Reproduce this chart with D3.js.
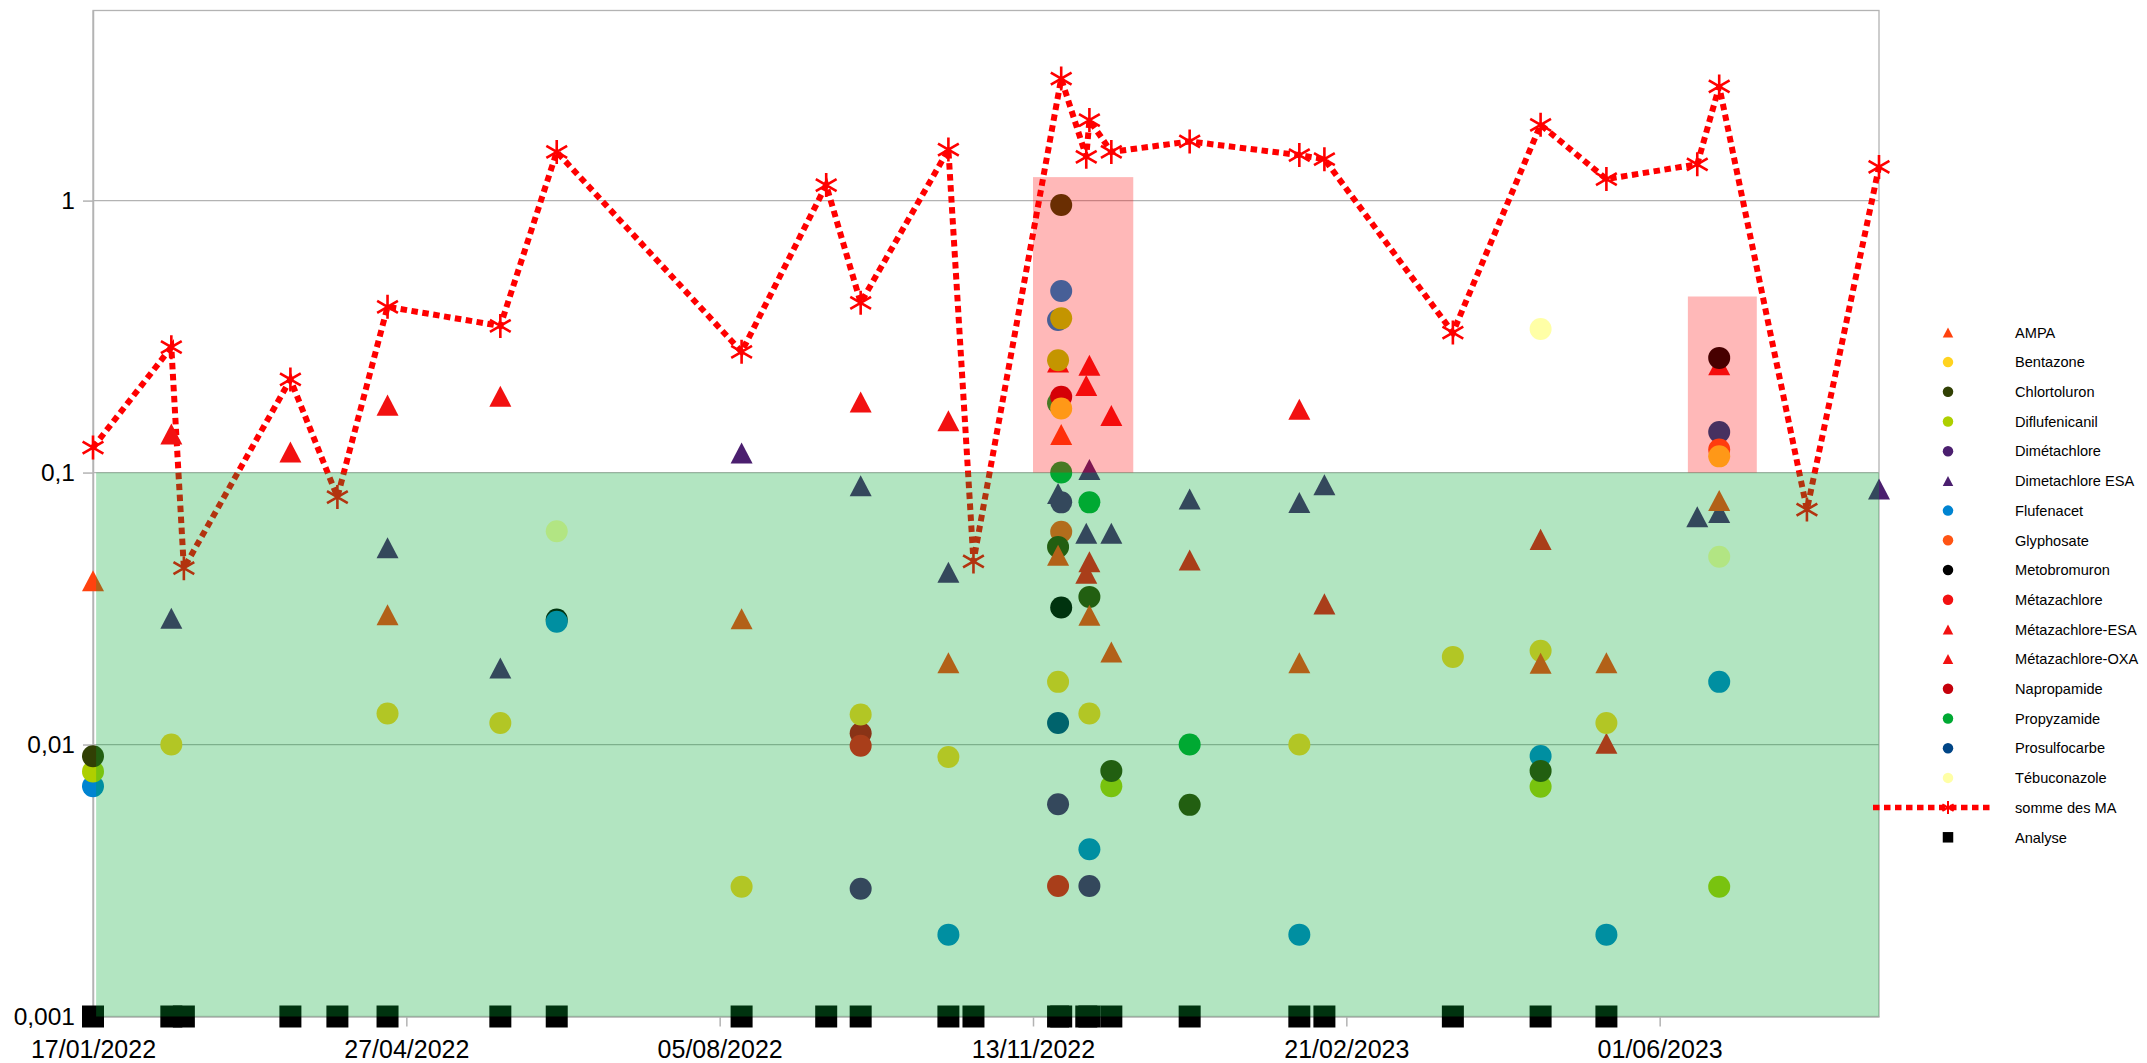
<!DOCTYPE html>
<html>
<head>
<meta charset="utf-8">
<title>Molécules détectées</title>
<script src="https://cdn.jsdelivr.net/npm/d3@7"></script>
<style>
  html, body { margin: 0; padding: 0; background: #ffffff; }
  svg { display: block; font-family: "Liberation Sans", Arial, sans-serif; }
</style>
</head>
<body>
<svg id="chart" width="2147" height="1063"></svg>
<script>
// ---- Data (concentrations, µg/L) ----------------------------------------
const seriesNames = [
  "AMPA", "Bentazone", "Chlortoluron", "Diflufenicanil", "Dimétachlore",
  "Dimetachlore ESA", "Flufenacet", "Glyphosate", "Metobromuron", "Métazachlore",
  "Métazachlore-ESA", "Métazachlore-OXA", "Napropamide", "Propyzamide",
  "Prosulfocarbe", "Tébuconazole"
];

const ampa = [
  ["17/01/2022", 0.04], ["21/04/2022", 0.03], ["12/08/2022", 0.029], ["17/10/2022", 0.02],
  ["21/11/2022", 0.0497], ["22/11/2022", 0.138], ["01/12/2022", 0.0299], ["08/12/2022", 0.0219],
  ["06/02/2023", 0.02], ["24/04/2023", 0.0199], ["15/05/2023", 0.02], ["20/06/2023", 0.079]
];
const bentazone = [
  ["11/02/2022", 0.01], ["21/04/2022", 0.013], ["27/05/2022", 0.012], ["12/08/2022", 0.003],
  ["19/09/2022", 0.0129], ["17/10/2022", 0.009], ["21/11/2022", 0.017], ["22/11/2022", 0.172],
  ["01/12/2022", 0.013], ["06/02/2023", 0.01], ["27/03/2023", 0.021], ["24/04/2023", 0.0221],
  ["15/05/2023", 0.012], ["20/06/2023", 0.1147]
];
const chlortoluron = [
  ["17/01/2022", 0.00906], ["21/11/2022", 0.0533], ["22/11/2022", 0.963], ["01/12/2022", 0.0349],
  ["08/12/2022", 0.008], ["02/01/2023", 0.006], ["24/04/2023", 0.008]
];
const diflufenicanil = [
  ["17/01/2022", 0.00796], ["21/11/2022", 0.259], ["22/11/2022", 0.369], ["08/12/2022", 0.00703],
  ["24/04/2023", 0.007], ["20/06/2023", 0.003]
];
const dimetachlore = [
  ["19/09/2022", 0.00295], ["21/11/2022", 0.00603], ["22/11/2022", 0.0777], ["01/12/2022", 0.00302]
];
const dimetachloreEsa = [
  ["11/02/2022", 0.0291], ["21/04/2022", 0.0529], ["27/05/2022", 0.0191], ["12/08/2022", 0.118],
  ["19/09/2022", 0.0895], ["17/10/2022", 0.043], ["21/11/2022", 0.0838], ["30/11/2022", 0.0598],
  ["01/12/2022", 0.1027], ["08/12/2022", 0.0598], ["02/01/2023", 0.08], ["06/02/2023", 0.0776],
  ["14/02/2023", 0.0902], ["13/06/2023", 0.0688], ["20/06/2023", 0.0713], ["10/08/2023", 0.087]
];
const flufenacet = [
  ["17/01/2022", 0.00702], ["14/06/2022", 0.0283], ["17/10/2022", 0.002], ["21/11/2022", 0.364],
  ["22/11/2022", 0.465], ["01/12/2022", 0.00412], ["06/02/2023", 0.002], ["24/04/2023", 0.00907],
  ["15/05/2023", 0.002], ["20/06/2023", 0.017]
];
const glyphosate = [
  ["22/11/2022", 0.0606], ["20/06/2023", 0.1216]
];
const metobromuron = [
  ["14/06/2022", 0.0288], ["22/11/2022", 0.0319], ["20/06/2023", 0.264]
];
const metazachlore = [
  ["19/09/2022", 0.0099], ["21/11/2022", 0.00302]
];
const metazachloreEsa = [
  ["11/02/2022", 0.1387], ["21/03/2022", 0.119], ["21/04/2022", 0.177], ["27/05/2022", 0.191],
  ["19/09/2022", 0.1817], ["17/10/2022", 0.155], ["21/11/2022", 0.255], ["30/11/2022", 0.209],
  ["01/12/2022", 0.248], ["08/12/2022", 0.162], ["06/02/2023", 0.171], ["20/06/2023", 0.249]
];
const metazachloreOxa = [
  ["30/11/2022", 0.0426], ["01/12/2022", 0.047], ["02/01/2023", 0.0477], ["14/02/2023", 0.0329],
  ["24/04/2023", 0.0568], ["15/05/2023", 0.0101]
];
const napropamide = [
  ["19/09/2022", 0.011], ["22/11/2022", 0.19]
];
const propyzamide = [
  ["21/11/2022", 0.18], ["22/11/2022", 0.1], ["01/12/2022", 0.0777], ["02/01/2023", 0.01]
];
const prosulfocarbe = [
  ["21/11/2022", 0.012], ["20/06/2023", 0.141]
];
const tebuconazole = [
  ["14/06/2022", 0.0608], ["24/04/2023", 0.337], ["20/06/2023", 0.049]
];

// Sum of active substances per sample
const sommeDesMA = [
  ["17/01/2022", 0.1236], ["11/02/2022", 0.289], ["15/02/2022", 0.0445], ["21/03/2022", 0.22],
  ["05/04/2022", 0.0813], ["21/04/2022", 0.407], ["27/05/2022", 0.346], ["14/06/2022", 1.51],
  ["12/08/2022", 0.278], ["08/09/2022", 1.14], ["19/09/2022", 0.421], ["17/10/2022", 1.54],
  ["25/10/2022", 0.0471], ["22/11/2022", 2.81], ["30/11/2022", 1.449], ["01/12/2022", 1.977],
  ["08/12/2022", 1.51], ["02/01/2023", 1.65], ["06/02/2023", 1.47], ["14/02/2023", 1.42],
  ["27/03/2023", 0.327], ["24/04/2023", 1.9], ["15/05/2023", 1.2], ["13/06/2023", 1.36],
  ["20/06/2023", 2.63], ["18/07/2023", 0.0731], ["10/08/2023", 1.33]
];

// Analysis dates (plotted on the axis floor)
const analyseDates = [
  "17/01/2022", "11/02/2022", "15/02/2022", "21/03/2022", "05/04/2022", "21/04/2022",
  "27/05/2022", "14/06/2022", "12/08/2022", "08/09/2022", "19/09/2022", "17/10/2022",
  "25/10/2022", "21/11/2022", "22/11/2022", "30/11/2022", "01/12/2022", "08/12/2022",
  "02/01/2023", "06/02/2023", "14/02/2023", "27/03/2023", "24/04/2023", "15/05/2023"
];
const analyseLevel = 0.001;

// Quality bands: [start date, end date, lower value, upper value]
const bandBelowThreshold = ["18/01/2022", "10/08/2023", 0.001, 0.1];
const bandsAboveThreshold = [
  ["13/11/2022", "15/12/2022", 0.1, 1.22],
  ["10/06/2023", "02/07/2023", 0.1, 0.444]
];

// Axes
const xDomain = ["17/01/2022", "10/08/2023"];
const xTickLabels = ["17/01/2022", "27/04/2022", "05/08/2022", "13/11/2022", "21/02/2023", "01/06/2023"];
const yDomain = [0.001, 5];
const yTickValues = [0.001, 0.01, 0.1, 1];
const yTickLabels = ["0,001", "0,01", "0,1", "1"];

// ---- Styling ------------------------------------------------------------
const seriesData = [
  ampa, bentazone, chlortoluron, diflufenicanil, dimetachlore, dimetachloreEsa,
  flufenacet, glyphosate, metobromuron, metazachlore, metazachloreEsa, metazachloreOxa,
  napropamide, propyzamide, prosulfocarbe, tebuconazole
];
const seriesColors = [
  "#ff420e", "#ffd320", "#314004", "#aecf00", "#4b1f6f", "#4b1f6f",
  "#0084d1", "#ff5414", "#000000", "#f21111", "#f21111", "#f21111",
  "#c5000b", "#00a933", "#004586", "#ffffa6"
];
const seriesShapes = [
  "triangle", "circle", "circle", "circle", "circle", "triangle",
  "circle", "circle", "circle", "circle", "triangle", "triangle",
  "circle", "circle", "circle", "circle"
];
const sumColor = "#ff0000";

const parse = d3.utcParse("%d/%m/%Y");
const fmt = d3.utcFormat("%d/%m/%Y");

const plot = { left: 93, right: 1879, top: 10.5, bottom: 1016.5 };
const gridColor = "#b3b3b3";

const x = d3.scaleUtc()
  .domain(xDomain.map(parse))
  .range([plot.left, plot.right]);
const y = d3.scaleLog()
  .domain(yDomain)
  .range([plot.bottom, plot.top]);

const svg = d3.select("#chart");

// Marker path generators, centred on (0,0)
function markerPath(shape, s) {
  const h = s / 2;
  if (shape === "triangle") {
    const th = s * 0.955 / 2;
    return `M0,${-th}L${h},${th}L${-h},${th}Z`;
  }
  if (shape === "square") {
    return `M${-h},${-h}H${h}V${h}H${-h}Z`;
  }
  if (shape === "asterisk") {
    const c = Math.cos(Math.PI / 6) * h, sn = Math.sin(Math.PI / 6) * h;
    return `M0,${-h}V${h}M${-c},${-sn}L${c},${sn}M${-c},${sn}L${c},${-sn}`;
  }
  // circle
  return `M${h},0A${h},${h} 0 1 1 ${-h},0A${h},${h} 0 1 1 ${h},0Z`;
}

// ---- Grid, frame ---------------------------------------------------------
const grid = svg.append("g");
grid.selectAll("line")
  .data(yTickValues.filter(v => v > yDomain[0]))
  .join("line")
  .attr("x1", plot.left).attr("x2", plot.right)
  .attr("y1", d => y(d)).attr("y2", d => y(d))
  .attr("stroke", gridColor).attr("stroke-width", 1.3);

svg.append("rect")
  .attr("x", plot.left).attr("y", plot.top)
  .attr("width", plot.right - plot.left).attr("height", plot.bottom - plot.top)
  .attr("fill", "none").attr("stroke", gridColor).attr("stroke-width", 1.3);

// ---- Axes ----------------------------------------------------------------
const xAxis = d3.axisBottom(x)
  .tickValues(xTickLabels.map(parse))
  .tickFormat(fmt)
  .tickSize(10).tickSizeOuter(0).tickPadding(14);
const gx = svg.append("g").attr("transform", `translate(0,${plot.bottom})`).call(xAxis);

const yAxis = d3.axisLeft(y)
  .tickValues(yTickValues)
  .tickFormat((d, i) => yTickLabels[i])
  .tickSize(10).tickSizeOuter(0).tickPadding(8);
const gy = svg.append("g").attr("transform", `translate(${plot.left},0)`).call(yAxis);

[gx, gy].forEach(g => {
  g.select(".domain").attr("stroke", gridColor).attr("stroke-width", 1.5);
  g.selectAll(".tick line").attr("stroke", gridColor).attr("stroke-width", 1.5);
  g.selectAll(".tick text")
    .attr("fill", "#000")
    .style("font-family", '"Liberation Sans", Arial, sans-serif');
});
gx.selectAll(".tick text").style("font-size", "25px");
gy.selectAll(".tick text").style("font-size", "24.5px");

// ---- Series (last series underneath, first series on top) ----------------
const marks = svg.append("g");

// Analysis dates on the floor of the axis
marks.append("g").selectAll("path")
  .data(analyseDates)
  .join("path")
  .attr("transform", d => `translate(${x(parse(d))},${y(analyseLevel)})`)
  .attr("d", markerPath("square", 22))
  .attr("fill", "#000");

// Sum line with asterisks
const sumPts = sommeDesMA.map(([d, v]) => [x(parse(d)), y(v)]);
marks.append("path")
  .attr("d", d3.line()(sumPts))
  .attr("fill", "none")
  .attr("stroke", sumColor)
  .attr("stroke-width", 6)
  .attr("stroke-dasharray", "6.5 4.5");
marks.append("g").selectAll("path")
  .data(sumPts)
  .join("path")
  .attr("transform", d => `translate(${d[0]},${d[1]})`)
  .attr("d", markerPath("asterisk", 24))
  .attr("fill", "none")
  .attr("stroke", sumColor)
  .attr("stroke-width", 2.6);

for (let i = seriesData.length - 1; i >= 0; i--) {
  marks.append("g").selectAll("path")
    .data(seriesData[i])
    .join("path")
    .attr("transform", ([d, v]) => `translate(${x(parse(d))},${y(v)})`)
    .attr("d", markerPath(seriesShapes[i], 22))
    .attr("fill", seriesColors[i]);
}

// ---- Translucent bands over the plot -------------------------------------
svg.append("rect")
  .attr("x", x(parse(bandBelowThreshold[0])))
  .attr("width", x(parse(bandBelowThreshold[1])) - x(parse(bandBelowThreshold[0])))
  .attr("y", y(bandBelowThreshold[3]))
  .attr("height", y(bandBelowThreshold[2]) - y(bandBelowThreshold[3]))
  .attr("fill", "#00a933").attr("fill-opacity", 0.3);

svg.append("g").selectAll("rect")
  .data(bandsAboveThreshold)
  .join("rect")
  .attr("x", d => x(parse(d[0])))
  .attr("width", d => x(parse(d[1])) - x(parse(d[0])))
  .attr("y", d => y(d[3]))
  .attr("height", d => y(d[2]) - y(d[3]))
  .attr("fill", "#ff0000").attr("fill-opacity", 0.28);

// ---- Legend --------------------------------------------------------------
const legendItems = seriesNames.map((n, i) => ({ name: n, shape: seriesShapes[i], color: seriesColors[i] }))
  .concat([{ name: "somme des MA", shape: "line" }, { name: "Analyse", shape: "square", color: "#000" }]);

const legend = svg.append("g").attr("transform", "translate(1948,332.4)");
const rows = legend.selectAll("g")
  .data(legendItems)
  .join("g")
  .attr("transform", (d, i) => `translate(0,${i * 29.7})`);

rows.each(function (d) {
  const g = d3.select(this);
  if (d.shape === "line") {
    g.append("line")
      .attr("x1", -75).attr("x2", 44)
      .attr("stroke", sumColor).attr("stroke-width", 5.5)
      .attr("stroke-dasharray", "6.5 4.5");
    g.append("path")
      .attr("d", markerPath("asterisk", 13))
      .attr("fill", "none").attr("stroke", sumColor).attr("stroke-width", 2);
  } else {
    g.append("path")
      .attr("d", markerPath(d.shape, 10.5))
      .attr("fill", d.color);
  }
  g.append("text")
    .attr("x", 67)
    .attr("dy", "0.36em")
    .attr("fill", "#000")
    .style("font-size", "14.6px")
    .text(d.name);
});
</script>
</body>
</html>
